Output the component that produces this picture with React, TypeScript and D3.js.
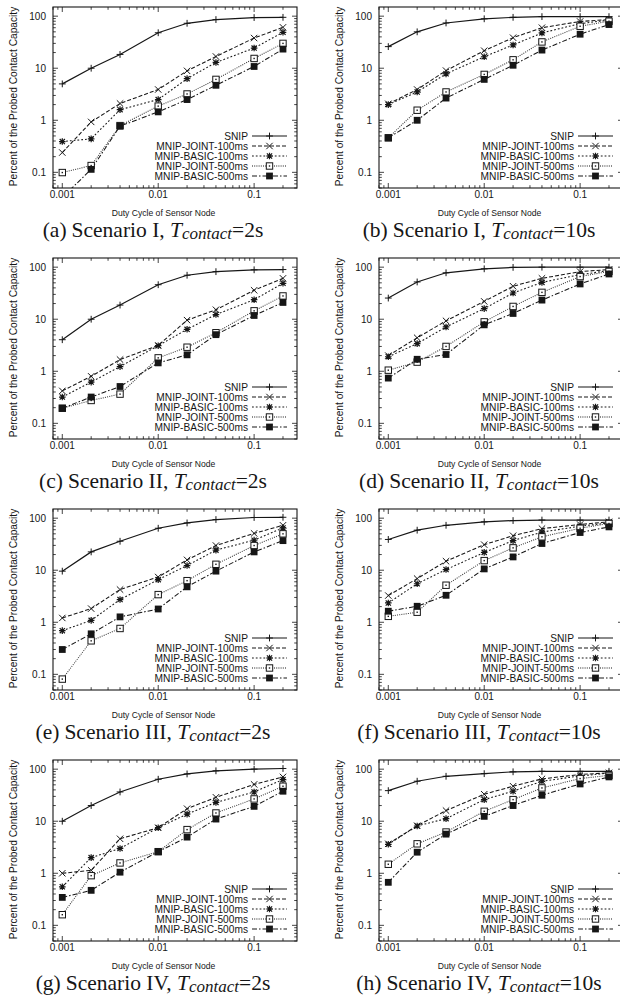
import React from "react";
import * as d3 from "d3";

// duty cycles on the x axis
const DUTY = [0.001, 0.002, 0.004, 0.01, 0.02, 0.04, 0.1, 0.2];
const SERIES = ["SNIP", "MNIP-JOINT-100ms", "MNIP-BASIC-100ms", "MNIP-JOINT-500ms", "MNIP-BASIC-500ms"];
const X_TICKS = [0.001, 0.01, 0.1];
const X_TICK_LABELS = ["0.001", "0.01", "0.1"];
const Y_TICKS = [0.1, 1, 10, 100];
const Y_TICK_LABELS = ["0.1", "1", "10", "100"];

// rows: SNIP, JOINT-100, BASIC-100, JOINT-500, BASIC-500
const A = [
  [5, 10, 18.4, 48, 73, 86, 94, 95],
  [0.24, 0.93, 2.1, 3.9, 8.9, 16.8, 38, 61],
  [0.39, 0.44, 1.6, 2.5, 6.3, 12.9, 24.4, 49],
  [0.099, 0.135, 0.79, 1.87, 3.2, 6.1, 15.4, 30],
  [0.033, 0.114, 0.77, 1.45, 2.5, 4.7, 10.8, 23.3],
];
const B = [
  [26, 50, 74, 89, 95, 98, 98, 98],
  [2.07, 3.9, 9, 21.7, 38.6, 60, 79, 86],
  [2.0, 3.5, 7.8, 16.6, 28, 47.6, 72, 84],
  [0.46, 1.56, 3.5, 7.6, 14.5, 32, 64, 80],
  [0.46, 1.0, 2.67, 6.1, 11.4, 22.3, 45, 69],
];
const C = [
  [4.04, 10, 18.7, 46, 70, 82, 89, 90],
  [0.42, 0.8, 1.68, 3.14, 9.6, 15.2, 36, 61],
  [0.32, 0.62, 1.23, 3.1, 6.4, 12.3, 23.7, 49],
  [0.195, 0.275, 0.364, 1.81, 2.9, 5.5, 14.5, 28],
  [0.195, 0.32, 0.51, 1.45, 2.07, 5.05, 11.8, 21],
];
const D = [
  [25.5, 52, 78, 93, 99, 100, 100, 100],
  [2.0, 4.4, 9.3, 22, 43, 61, 82, 90],
  [1.9, 3.4, 7.1, 16, 31.9, 51, 72, 86],
  [1.05, 1.5, 3.0, 8.9, 17.6, 32.8, 66, 83],
  [0.74, 1.7, 2.1, 7.8, 12.9, 23.3, 47.6, 74],
];
const E = [
  [9.6, 22.5, 36, 64, 81, 94, 103, 104],
  [1.21, 1.83, 4.25, 7.4, 15.8, 29.8, 51, 73],
  [0.69, 1.09, 2.73, 6.6, 12.3, 24.3, 37.8, 65],
  [0.081, 0.44, 0.76, 3.4, 6.3, 13, 29.8, 50],
  [0.3, 0.6, 1.27, 1.8, 4.8, 9.6, 22.5, 37],
];
const F = [
  [39, 58.8, 73, 85, 90, 92, 92, 92],
  [3.26, 6.9, 14.9, 31, 46, 63, 75.5, 85],
  [2.35, 5.5, 10.3, 22, 37, 54, 70, 81],
  [1.3, 1.56, 5.15, 15.3, 26.9, 43.8, 64, 79],
  [1.63, 2.03, 3.3, 10.6, 18, 32.6, 53, 68],
];
const G = [
  [10, 20, 36.5, 64, 81, 93, 100, 103],
  [1.0, 1.14, 4.6, 7.5, 17.4, 28.8, 51, 71],
  [0.55, 2.0, 3.0, 7.5, 13.7, 23, 36.5, 63],
  [0.16, 0.9, 1.58, 2.6, 6.9, 14.4, 26.8, 47],
  [0.344, 0.47, 1.05, 2.6, 4.95, 11, 19.3, 37.7],
];
const H = [
  [38.7, 58.7, 73, 82, 89, 91, 91, 91],
  [3.68, 8.2, 16, 33, 47, 65, 79, 85],
  [3.6, 8.1, 11.2, 26, 37.7, 58.7, 74, 84],
  [1.49, 3.68, 6.2, 15.5, 26, 43.6, 66, 76],
  [0.67, 2.54, 5.65, 12.4, 20, 31.5, 52, 71],
];

const PANELS = [
  { id: "a", scen: "I", t: "2s", data: A },
  { id: "b", scen: "I", t: "10s", data: B },
  { id: "c", scen: "II", t: "2s", data: C },
  { id: "d", scen: "II", t: "10s", data: D },
  { id: "e", scen: "III", t: "2s", data: E },
  { id: "f", scen: "III", t: "10s", data: F },
  { id: "g", scen: "IV", t: "2s", data: G },
  { id: "h", scen: "IV", t: "10s", data: H },
];

const COL_X = [0, 326];
const ROW_Y = [0, 251, 502, 753];
const PL = 53, PR = 297, PT = 7, PB = 188;
const INK = "#161616";
const SANS = "'Liberation Sans', Arial, sans-serif";
const SERIF = "'Liberation Serif', 'Times New Roman', serif";

const DASH = [undefined, "4 2", "1.8 2", "1 1.2", "5 2 1.5 2"];

const x = d3.scaleLog().domain([0.0008, 0.28]).range([PL, PR]);
const y = d3.scaleLog().domain([0.05, 150]).range([PB, PT]);
const isMajor = (v: number) => Math.abs(Math.log10(v) - Math.round(Math.log10(v))) < 1e-6;

function Marker({ kind, cx, cy }: { kind: number; cx: number; cy: number }) {
  const s = 3.4;
  if (kind === 0)
    return <path d={`M${cx - s},${cy}H${cx + s}M${cx},${cy - s}V${cy + s}`} stroke={INK} strokeWidth={1} />;
  if (kind === 1)
    return <path d={`M${cx - 3.2},${cy - 3.2}L${cx + 3.2},${cy + 3.2}M${cx - 3.2},${cy + 3.2}L${cx + 3.2},${cy - 3.2}`} stroke={INK} strokeWidth={1} />;
  if (kind === 2)
    return (
      <path
        d={`M${cx - 3.3},${cy}H${cx + 3.3}M${cx},${cy - 3.3}V${cy + 3.3}M${cx - 2.6},${cy - 2.6}L${cx + 2.6},${cy + 2.6}M${cx - 2.6},${cy + 2.6}L${cx + 2.6},${cy - 2.6}`}
        stroke={INK} strokeWidth={1.2}
      />
    );
  if (kind === 3)
    return (
      <g>
        <rect x={cx - 3.2} y={cy - 3.2} width={6.4} height={6.4} fill="#fff" stroke={INK} strokeWidth={1} />
        <rect x={cx - 0.7} y={cy - 0.7} width={1.4} height={1.4} fill={INK} />
      </g>
    );
  return <rect x={cx - 3.4} y={cy - 3.4} width={6.8} height={6.8} fill={INK} />;
}

function Panel({ p, ox, oy }: { p: (typeof PANELS)[number]; ox: number; oy: number }) {
  const line = d3.line<number>().x((_, i) => x(DUTY[i])).y((v) => y(v));
  const xt = x.ticks();
  const yt = y.ticks();
  const clipId = `clip-${p.id}`;
  const cx = (PL + PR) / 2;
  return (
    <g transform={`translate(${ox},${oy})`}>
      <defs>
        <clipPath id={clipId}>
          <rect x={PL} y={PT} width={PR - PL} height={PB - PT} />
        </clipPath>
      </defs>
      {/* ticks, mirrored on all four sides */}
      {xt.map((v, i) => {
        const L = isMajor(v) ? 5 : 2.8;
        return (
          <g key={"x" + i} stroke={INK} strokeWidth={0.8}>
            <line x1={x(v)} x2={x(v)} y1={PB} y2={PB - L} />
            <line x1={x(v)} x2={x(v)} y1={PT} y2={PT + L} />
          </g>
        );
      })}
      {yt.map((v, i) => {
        const L = isMajor(v) ? 5 : 2.8;
        return (
          <g key={"y" + i} stroke={INK} strokeWidth={0.8}>
            <line x1={PL} x2={PL + L} y1={y(v)} y2={y(v)} />
            <line x1={PR} x2={PR - L} y1={y(v)} y2={y(v)} />
          </g>
        );
      })}
      <rect x={PL} y={PT} width={PR - PL} height={PB - PT} fill="none" stroke={INK} strokeWidth={1.1} />
      {X_TICKS.map((v, i) => (
        <text key={"xl" + i} x={x(v)} y={PB + 10} textAnchor="middle" fontFamily={SANS} fontSize={10} fill={INK}>
          {X_TICK_LABELS[i]}
        </text>
      ))}
      {Y_TICKS.map((v, i) => (
        <text key={"yl" + i} x={PL - 7} y={y(v) + 3.5} textAnchor="end" fontFamily={SANS} fontSize={10} fill={INK}>
          {Y_TICK_LABELS[i]}
        </text>
      ))}
      <text x={cx - 11.5} y={215.5} textAnchor="middle" fontFamily={SANS} fontSize={8.6} fill={INK}>
        Duty Cycle of Sensor Node
      </text>
      <text transform={`translate(16.5,${(PT + PB) / 2 - 1}) rotate(-90)`} textAnchor="middle" fontFamily={SANS} fontSize={10.2} fill={INK}>
        Percent of the Probed Contact Capacity
      </text>
      {/* series */}
      <g clipPath={`url(#${clipId})`}>
        {p.data.map((vals, k) => (
          <path key={"l" + k} d={line(vals) ?? ""} fill="none" stroke={INK} strokeWidth={k === 0 ? 1.2 : 1.05}
            strokeDasharray={DASH[k]} opacity={k === 3 ? 0.85 : 1} />
        ))}
        {p.data.map((vals, k) =>
          vals.map((v, i) => <Marker key={`m${k}-${i}`} kind={k} cx={x(DUTY[i])} cy={y(v)} />)
        )}
      </g>
      {/* legend */}
      {SERIES.map((s, k) => {
        const ly = 136 + k * 10;
        return (
          <g key={"lg" + k}>
            <text x={248} y={ly + 3.6} textAnchor="end" fontFamily={SANS} fontSize={10.2} fill={INK}>{s}</text>
            <line x1={252} x2={287} y1={ly} y2={ly} stroke={INK} strokeWidth={k === 0 ? 1.2 : 1.05} strokeDasharray={DASH[k]} />
            <Marker kind={k} cx={269.5} cy={ly} />
          </g>
        );
      })}
      {/* caption */}
      <text x={153} y={237} textAnchor="middle" fontFamily={SERIF} fontSize={21.5} fill={INK}>
        <tspan>({p.id})</tspan>
        <tspan dx={5}>{`Scenario ${p.scen}, `}</tspan>
        <tspan fontStyle="italic">T</tspan>
        <tspan fontStyle="italic" fontSize={17} dy={2}>contact</tspan>
        <tspan dy={-2}>{`=${p.t}`}</tspan>
      </text>
    </g>
  );
}

export default function App() {
  return (
    <svg width={620} height={996} style={{ position: "absolute", left: 0, top: 0, background: "#fff" }}>
      <rect width={620} height={996} fill="#fff" />
      {PANELS.map((p, i) => (
        <Panel key={p.id} p={p} ox={COL_X[i % 2]} oy={ROW_Y[Math.floor(i / 2)]} />
      ))}
    </svg>
  );
}
